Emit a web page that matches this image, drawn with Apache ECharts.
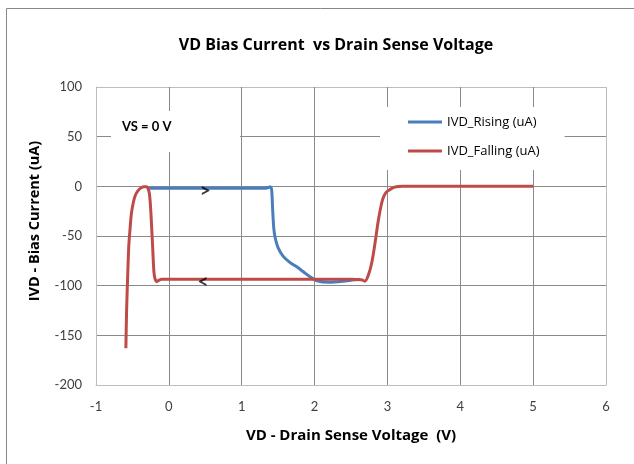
<!DOCTYPE html>
<html>
<head>
<meta charset="utf-8">
<script src="https://cdn.jsdelivr.net/npm/echarts@6/dist/echarts.min.js"></script>
<style>
  html, body { margin: 0; padding: 0; background: #fff; }
  #main { width: 634px; height: 464px; }
</style>
</head>
<body>
<div id="main"></div>
<script>
// IVD_Rising (uA): [VD (V), IVD (uA)]
var rising = [
  [-0.30, -2], [-0.2, -2], [0, -2], [0.5, -2], [1.0, -2], [1.3, -2],
  [1.36, -1.5], [1.39, -0.5], [1.41, -3], [1.425, -24], [1.44, -42],
  [1.46, -52], [1.5, -62], [1.57, -70.5], [1.66, -76.5], [1.755, -81],
  [1.846, -86], [1.937, -91], [2.03, -95], [2.2, -96.5], [2.45, -95], [2.62, -93.6]
]
// IVD_Falling (uA): swept from 5 V down to -0.6 V
var falling = [
  [5, 0], [4, 0], [3.5, 0], [3.2, 0], [3.12, -0.5], [3.06, -2], [2.99, -5.5],
  [2.95, -10], [2.92, -17], [2.876, -34], [2.83, -57], [2.785, -77], [2.74, -89],
  [2.69, -95.5], [2.64, -94], [2.5, -93.5], [2, -93.5], [1, -93.5], [0, -93.5],
  [-0.1, -93.5], [-0.135, -94.5], [-0.167, -96], [-0.19, -93], [-0.205, -86],
  [-0.22, -65], [-0.236, -41], [-0.252, -20], [-0.268, -7], [-0.29, -1.5],
  [-0.31, -0.3], [-0.34, -0.3], [-0.38, -1.5], [-0.42, -4], [-0.46, -9],
  [-0.49, -17], [-0.515, -28], [-0.535, -45], [-0.55, -60], [-0.565, -90],
  [-0.58, -125], [-0.59, -163]
]
// sweep direction arrows: [VD, IVD, glyph]
var arrows = [[0.5, -2, '>'], [0.47, -93.5, '<']]

var xMin = -1, xMax = 6, xStep = 1
var yMin = -200, yMax = 100, yStep = 50

var fontFamily = 'Lato, "Open Sans", sans-serif'
var boldFamily = '"Open Sans", Lato, sans-serif'
var gridColor = '#8a8a8a'
var borderColor = '#bdbdbd'

var chart = echarts.init(document.getElementById('main'))
var option = {
  animation: false,
  textStyle: { fontFamily: fontFamily },
  title: {
    text: 'VD Bias Current  vs Drain Sense Voltage',
    left: 331,
    top: 32,
    textAlign: 'center',
    textStyle: { fontSize: 16, fontWeight: 'bold', color: '#000', fontFamily: boldFamily },
  },
  legend: {
    orient: 'vertical',
    left: 380,
    top: 107,
    data: ['IVD_Rising (uA)', 'IVD_Falling (uA)'],
    icon: 'rect',
    itemWidth: 34,
    itemHeight: 3,
    itemGap: 13,
    backgroundColor: '#fff',
    padding: [7, 25, 11, 28],
    textStyle: { fontSize: 13, color: '#000', lineHeight: 16, fontFamily: boldFamily },
  },
  grid: {
    left: 96,
    top: 87,
    width: 510,
    height: 298,
  },
  xAxis: {
    type: 'value',
    min: xMin,
    max: xMax,
    interval: xStep,
    name: 'VD - Drain Sense Voltage  (V)',
    nameLocation: 'middle',
    nameGap: 43,
    nameTextStyle: { fontSize: 15, fontWeight: 'bold', color: '#000', fontFamily: boldFamily },
    axisLine: { show: true, onZero: false, lineStyle: { color: borderColor } },
    axisTick: { show: false },
    axisLabel: { fontSize: 13, color: '#404040', margin: 15 },
    splitLine: {
      show: true,
      lineStyle: { color: [borderColor, gridColor, gridColor, gridColor, gridColor, gridColor, gridColor, borderColor] },
    },
  },
  yAxis: {
    type: 'value',
    min: yMin,
    max: yMax,
    interval: yStep,
    name: 'IVD - Bias Current (uA)',
    nameLocation: 'middle',
    nameGap: 54,
    nameTextStyle: { fontSize: 14.5, fontWeight: 'bold', color: '#000', fontFamily: boldFamily, padding: [0, 0, 0, 30] },
    axisLine: { show: true, onZero: false, lineStyle: { color: borderColor } },
    axisTick: { show: false },
    axisLabel: { fontSize: 13, color: '#404040', margin: 14 },
    splitLine: {
      show: true,
      lineStyle: { color: [borderColor, gridColor, gridColor, gridColor, gridColor, gridColor, borderColor] },
    },
  },
  graphic: [
    {
      type: 'rect',
      z: -1,
      shape: { x: 6.5, y: 8.5, width: 700, height: 500 },
      style: { fill: 'none', stroke: '#888', lineWidth: 1 },
    },
    {
      type: 'rect',
      z: 5,
      shape: { x: 111, y: 111, width: 129, height: 41 },
      style: { fill: '#fff' },
    },
    {
      type: 'text',
      z: 6,
      left: 122,
      top: 120,
      style: { text: 'VS = 0 V', fontSize: 13, fontWeight: 'bold', fill: '#000', fontFamily: fontFamily },
    },
  ],
  series: [
    {
      name: 'IVD_Rising (uA)',
      type: 'line',
      data: rising,
      smooth: 0.3,
      symbol: 'none',
      lineStyle: { color: '#4a7ebb', width: 3 },
      itemStyle: { color: '#4a7ebb' },
    },
    {
      name: 'IVD_Falling (uA)',
      type: 'line',
      data: falling,
      smooth: 0.3,
      symbol: 'none',
      lineStyle: { color: '#be4b48', width: 3 },
      itemStyle: { color: '#be4b48' },
    },
    {
      name: 'arrows',
      type: 'scatter',
      data: arrows,
      symbolSize: 1,
      itemStyle: { color: 'rgba(0,0,0,0)' },
      z: 4,
      label: {
        show: true,
        position: 'inside',
        offset: [0, 3],
        formatter: function (p) { return p.data[2] },
        fontSize: 19,
        fontWeight: 'bold',
        fontFamily: fontFamily,
        color: '#000',
      },
    },
  ],
}
option && chart.setOption(option)
</script>
</body>
</html>
